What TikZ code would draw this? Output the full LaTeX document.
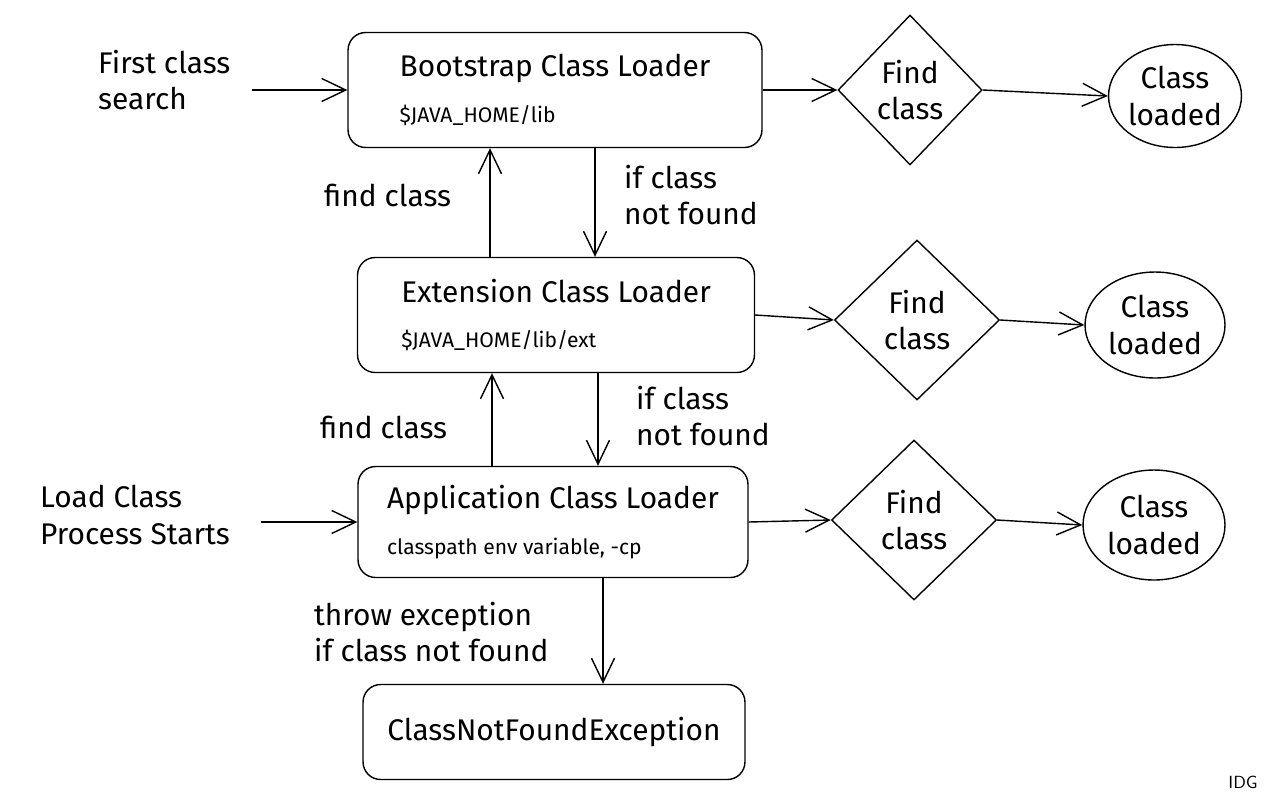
\documentclass[tikz,border=0pt]{standalone}
\usepackage{fontspec}
\setmainfont{Fira Sans}
\usetikzlibrary{arrows.meta,shapes.geometric}

\begin{document}
\begin{tikzpicture}[x=0.02cm,y=-0.02cm,font=\fontsize{17}{21}\selectfont,>={Straight Barb[length=4.8mm,width=4.6mm]},
box/.style={draw, rounded corners=10pt, line width=0.8pt, align=left, minimum height=2.3cm},
decision/.style={draw, diamond, line width=0.8pt, align=center, inner sep=0pt},
done/.style={draw, ellipse, line width=0.8pt, align=center, inner sep=0pt},
arrow/.style={->, line width=0.8pt},
note/.style={align=left, anchor=west}]
\useasboundingbox (0,0) rectangle (1270,802);
% loaders
\node[box, minimum width=8.28cm] (boot) at (555,90) {Bootstrap Class Loader\\[5pt]{\fontsize{12}{15}\selectfont \$JAVA\_HOME/lib}};
\node[box, minimum width=7.94cm] (ext) at (556,315) {Extension Class Loader\\[5pt]{\fontsize{12}{15}\selectfont \$JAVA\_HOME/lib/ext}};
\node[box, minimum width=7.8cm, minimum height=2.22cm] (app) at (553,522) {Application Class Loader\\[5pt]{\fontsize{12}{15}\selectfont classpath env variable, -cp}};
\node[box, minimum width=7.64cm, minimum height=1.9cm] (cnf) at (554,732) {ClassNotFoundException};
% find class / loaded
\node[decision, minimum width=2.88cm, minimum height=3cm] (find1) at (910,90) {Find\\class};
\node[decision, minimum width=3.3cm, minimum height=3.2cm] (find2) at (917,320) {Find\\class};
\node[decision, minimum width=3.3cm, minimum height=3.2cm] (find3) at (914,520) {Find\\class};
\node[done, minimum width=2.6cm, minimum height=2.06cm] (loaded1) at (1175,96) {Class\\loaded};
\node[done, minimum width=2.8cm, minimum height=2.12cm] (loaded2) at (1155,325) {Class\\loaded};
\node[done, minimum width=2.84cm, minimum height=2.2cm] (loaded3) at (1154,525) {Class\\loaded};
% outside texts
\node[note] (first) at (92,80) {First class\\search};
\node[note] (start) at (34,515) {Load Class\\Process Starts};
\node[note] (up1) at (318,195) {find class};
\node[note] (down1) at (618,195) {if class\\not found};
\node[note] (up2) at (314,427) {find class};
\node[note] (down2) at (630,416) {if class\\not found};
\node[note] (throw) at (308,632) {throw exception\\if class not found};
\node[font=\fontsize{10}{12}\selectfont\sffamily] (idg) at (1243,782) {IDG};
% arrows
\draw[arrow] ([xshift=0.3cm]first.east |- boot.west) -- (boot.west);
\draw[arrow] ([xshift=0.5cm]start.east |- app.west) -- (app.west);
\draw[arrow] (boot.east) -- (find1.west);
\draw[arrow] (find1.east) -- (loaded1.west);
\draw[arrow] (ext.east) -- (find2.west);
\draw[arrow] (find2.east) -- (loaded2.west);
\draw[arrow] (app.east) -- (find3.west);
\draw[arrow] (find3.east) -- (loaded3.west);
\draw[arrow] (boot.south -| 595,0) -- (ext.north -| 595,0);
\draw[arrow] (ext.north -| 490,0) -- (boot.south -| 490,0);
\draw[arrow] (ext.south -| 598,0) -- (app.north -| 598,0);
\draw[arrow] (app.north -| 492,0) -- (ext.south -| 492,0);
\draw[arrow] (app.south -| 603,0) -- (cnf.north -| 603,0);
\end{tikzpicture}
\end{document}
